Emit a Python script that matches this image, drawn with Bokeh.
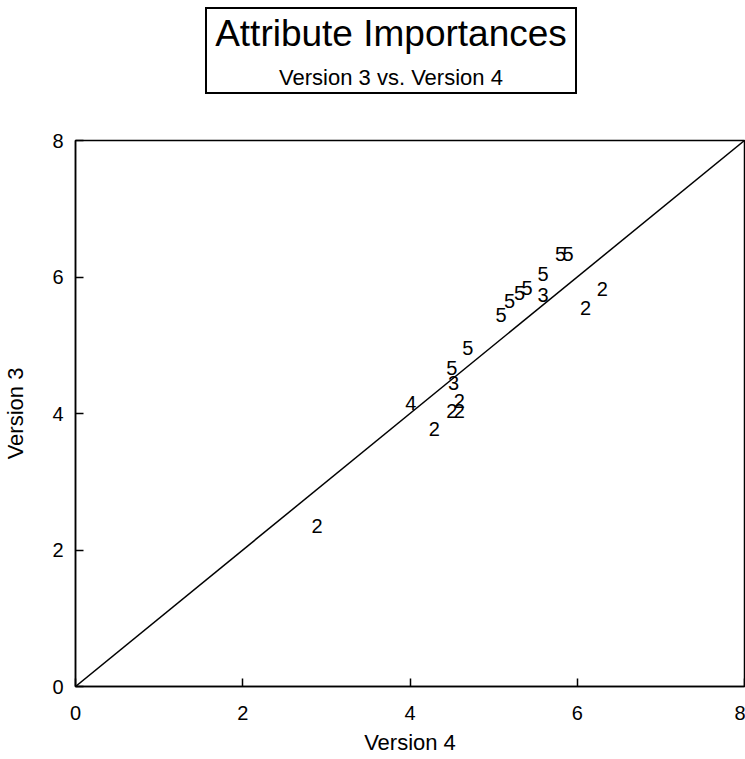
from bokeh.plotting import figure
from bokeh.models import ColumnDataSource, Div, FixedTicker, Range1d
from bokeh.layouts import column
from bokeh.core.properties import value
from bokeh.embed import file_html
from bokeh.resources import INLINE

# Data (x = Version 4, y = Version 3, label = symbol)
version4 = [5.80, 5.89, 5.59, 6.30, 5.59, 5.40, 5.31, 5.19, 5.09, 6.10,
            4.69, 4.50, 4.52, 4.01, 4.59, 4.50, 4.59, 4.29, 2.89]
version3 = [6.33, 6.33, 6.04, 5.83, 5.74, 5.84, 5.77, 5.65, 5.45, 5.55,
            4.96, 4.67, 4.44, 4.15, 4.18, 4.03, 4.03, 3.77, 2.35]
symbols = ["5", "5", "5", "2", "3", "5", "5", "5", "5", "2",
           "5", "5", "3", "4", "2", "2", "2", "2", "2"]
diag = [0, 8]
ticks = [0, 2, 4, 6, 8]

FONT = "Liberation Sans"

title_html = (
    '<div style="position:absolute;left:205px;top:7px;width:372px;height:87px;border:2px solid black;'
    'font-family:\'Liberation Sans\',Arial,sans-serif;text-align:center;color:black;">'
    '<div style="font-size:37px;line-height:40px;margin-top:5px;">Attribute Importances</div>'
    '<div style="font-size:22px;line-height:24px;margin-top:12px;">Version 3 vs. Version 4</div>'
    '</div>'
)
header = Div(text=title_html, width=745, height=100, margin=(0, 0, 0, 0))

p = figure(width=745, height=659, output_backend="svg", toolbar_location=None,
           x_range=Range1d(0, 8), y_range=Range1d(0, 8),
           min_border_left=69, min_border_right=1, min_border_top=40, min_border_bottom=73)
p.margin = (0, 0, 0, 0)
p.grid.visible = False
p.outline_line_color = "black"
p.outline_line_width = 1.5
p.background_fill_color = "white"
p.border_fill_color = "white"

for ax in (p.xaxis[0], p.yaxis[0]):
    ax.ticker = FixedTicker(ticks=ticks)
    ax.minor_tick_line_color = None
    ax.major_tick_in = 8
    ax.major_tick_out = 0
    ax.major_tick_line_color = "black"
    ax.major_tick_line_width = 1.5
    ax.axis_line_color = "black"
    ax.axis_line_width = 1.5
    ax.major_label_text_font = FONT
    ax.major_label_text_font_size = "20px"
    ax.major_label_text_color = "black"
    ax.axis_label_text_font = FONT
    ax.axis_label_text_font_size = "22px"
    ax.axis_label_text_font_style = "normal"
    ax.axis_label_text_color = "black"

p.xaxis.axis_label = "Version 4"
p.yaxis.axis_label = "Version 3"
p.xaxis.major_label_standoff = 19
p.xaxis.axis_label_standoff = 7
p.yaxis.major_label_standoff = 12
p.yaxis.axis_label_standoff = 21

p.line(x=diag, y=diag, line_color="black", line_width=1.5)

src = ColumnDataSource(dict(x=version4, y=version3, t=symbols))
p.text(x="x", y="y", text="t", source=src, text_font=value(FONT),
       text_font_size="20px", text_align="center", text_baseline="middle",
       text_color="black")

layout = column(header, p, spacing=0)
open("out.html", "w").write(file_html(layout, INLINE))
